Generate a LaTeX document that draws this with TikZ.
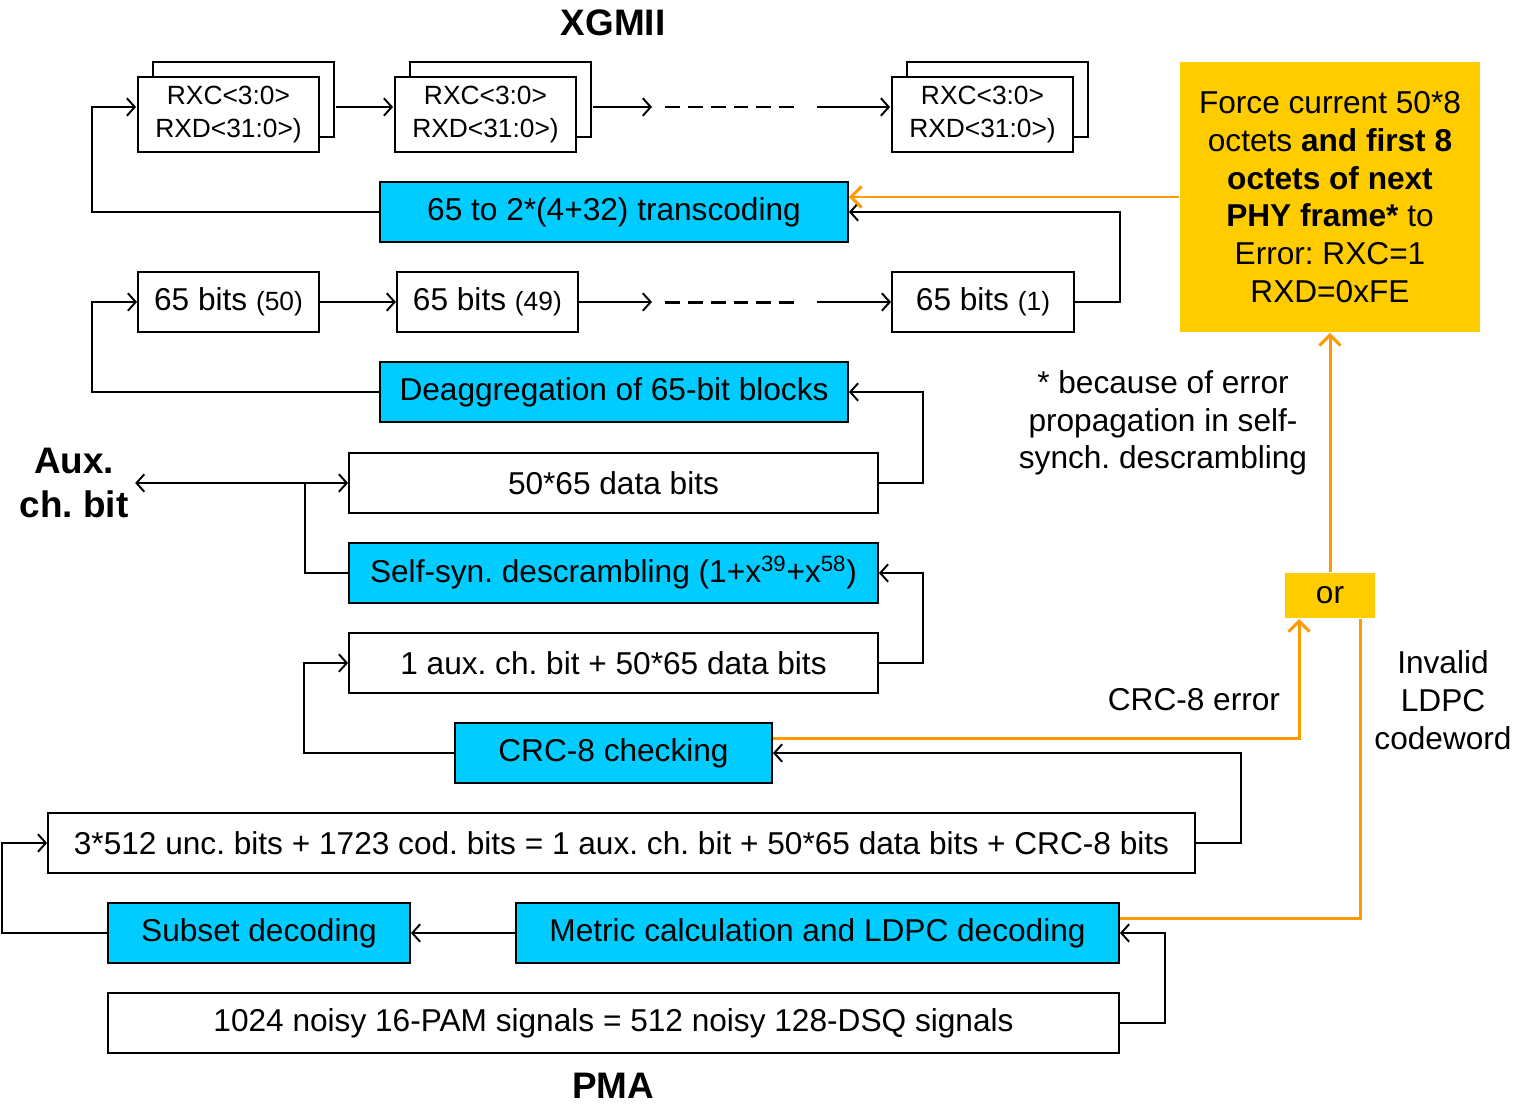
\documentclass[tikz,border=0pt]{standalone}
\usepackage{fontspec}
\setmainfont{Liberation Sans}
\usetikzlibrary{arrows.meta,fit,positioning}
\definecolor{cyanfill}{HTML}{00CCFF}
\definecolor{goldfill}{HTML}{FFCC00}
\definecolor{errorange}{HTML}{FF9900}
\newcommand{\blkcount}[1]{{\fontsize{15}{18}\selectfont(#1)}}
\frenchspacing

\begin{document}
\begin{tikzpicture}[x=0.02cm, y=-0.02cm, line width=1.1pt, >={Straight Barb[length=4.5pt,width=10pt]}]
	\tikzstyle{blk} = [draw, fill=white, inner sep=0pt, minimum height=1.2cm, font=\fontsize{18}{21.5}\selectfont]
	\tikzstyle{cyanblk} = [blk, fill=cyanfill]
	\tikzstyle{xgbox} = [draw, fill=white, inner sep=0pt, minimum width=3.62cm, minimum height=1.5cm, align=center, font=\fontsize{15}{18.5}\selectfont]
	\tikzstyle{blk65} = [blk, minimum width=3.62cm]
	\tikzstyle{goldbox} = [fill=goldfill, inner sep=0pt, align=center, font=\fontsize{18}{21.5}\selectfont]
	\tikzstyle{note} = [align=center, inner sep=0pt, font=\fontsize{18}{21.5}\selectfont]
	\tikzstyle{title} = [font=\fontsize{21}{25}\selectfont\bfseries, align=center]
	\tikzstyle{dashline} = [line width=1.7pt, dash pattern=on 8.5pt off 4.5pt]
	\tikzstyle{errarrow} = [draw=errorange, line width=1.7pt, -{Straight Barb[length=6pt,width=12pt]}]
	\tikzstyle{errpath} = [draw=errorange, line width=1.7pt]

	\useasboundingbox (0,0) rectangle (1518,1106);

	% XGMII side
	\path
	node[title] (xgmii) at (613,23) {XGMII}
	node[xgbox] (rx1b) at (243.5,99.5) {}
	node[xgbox] (rx1) at (228.5,114.5) {RXC<3:0>\\RXD<31:0>)}
	node[xgbox] (rx2b) at (500.5,99.5) {}
	node[xgbox] (rx2) at (485.5,114.5) {RXC<3:0>\\RXD<31:0>)}
	node[xgbox] (rx3b) at (997.5,99.5) {}
	node[xgbox] (rx3) at (982.5,114.5) {RXC<3:0>\\RXD<31:0>)}
	node[fit=(rx1)(rx1b), inner sep=0pt] (rxg1) {}
	node[fit=(rx2)(rx2b), inner sep=0pt] (rxg2) {}
	node[fit=(rx3)(rx3b), inner sep=0pt] (rxg3) {}

	node[cyanblk, minimum width=9.36cm] (trans) at (614,212) {65 to 2*(4+32) transcoding}
	node[blk65] (b65a) at (228.5,302) {65 bits \blkcount{50}}
	node[blk65, right=1.52cm of b65a] (b65b) {65 bits \blkcount{49}}
	node[blk65, minimum width=3.64cm] (b65c) at (983,302) {65 bits \blkcount{1}}
	node[cyanblk, minimum width=9.36cm] (deagg) at (614,392) {Deaggregation of 65-bit blocks}
	node[blk, minimum width=10.58cm] (data) at (613.5,483) {50*65 data bits}
	node[cyanblk, minimum width=10.58cm] (descr) at (613.5,573) {Self-syn. descrambling (1+x\textsuperscript{39}+x\textsuperscript{58})}
	node[blk, minimum width=10.58cm] (aux1) at (613.5,663) {1 aux. ch. bit + 50*65 data bits}
	node[cyanblk, minimum width=6.34cm] (crc) at (613.5,753) {CRC-8 checking}
	node[blk, minimum width=22.94cm] (unc) at (621.5,843) {3*512 unc. bits + 1723 cod. bits = 1 aux. ch. bit + 50*65 data bits + CRC-8 bits}
	node[cyanblk, minimum width=6.04cm] (subset) at (259,933) {Subset decoding}
	node[cyanblk, minimum width=12.06cm] (metric) at (817.5,933) {Metric calculation and LDPC decoding}
	node[blk, minimum width=20.22cm] (pam) at (613.5,1023) {1024 noisy 16-PAM signals = 512 noisy 128-DSQ signals}
	node[title] (pma) at (613,1086) {PMA}

	node[title] (auxlbl) at (74,483) {Aux.\\ch. bit}
	node[goldbox, minimum width=6cm, minimum height=5.4cm] (force) at (1330,197)
		{Force current 50*8\\octets \textbf{and first 8}\\\textbf{octets of next}\\\textbf{PHY frame*} to\\Error: RXC=1\\RXD=0xFE}
	node[goldbox, minimum width=1.8cm, minimum height=0.9cm] (orbox) at (1330,595.5) {or}
	node[note] (because) at (1163,423) {* because of error\\propagation in self-\\synch. descrambling}
	node[note, anchor=east] (crcerr) at (1281,700) {CRC-8 error}
	node[note] (invalid) at (1443,700) {Invalid\\LDPC\\codeword}
	;

	\coordinate (gap1a) at (652,107);
	\coordinate (dash1s) at (665,107);
	\coordinate (dash1e) at (795,107);
	\coordinate (gap1b) at (817,107);
	\coordinate (gap2a) at (652,302);
	\coordinate (dash2s) at (665,302);
	\coordinate (dash2e) at (795,302);
	\coordinate (gap2b) at (817,302);
	\coordinate (auxj) at (305,483);

	% black data path
	\draw[->] (rxg1.east) -- (rxg2.west);
	\draw[->] (rxg2.east) -- (gap1a);
	\draw[dashline] (dash1s) -- (dash1e);
	\draw[->] (gap1b) -- (rxg3.west);
	\draw[->] (trans.west) -- ++(-287,0) |- (rxg1.west);
	\draw[->] (b65c.east) -- ++(45,0) |- (trans.east);

	\draw[->] (b65a.east) -- (b65b.west);
	\draw[->] (b65b.east) -- (gap2a);
	\draw[dashline] (dash2s) -- (dash2e);
	\draw[->] (gap2b) -- (b65c.west);
	\draw[->] (deagg.west) -- ++(-287,0) |- (b65a.west);
	\draw[->] (data.east) -- ++(44,0) |- (deagg.east);

	\draw (descr.west) -| (auxj);
	\draw[->] (auxj) -- (data.west);
	\draw[->] (auxj) -- (auxlbl.east);
	\draw[->] (aux1.east) -- ++(44,0) |- (descr.east);
	\draw[->] (crc.west) -- ++(-150,0) |- (aux1.west);
	\draw[->] (unc.east) -- ++(45,0) |- (crc.east);
	\draw[->] (subset.west) -- ++(-105,0) |- (unc.west);
	\draw[->] (metric.west) -- (subset.east);
	\draw[->] (pam.east) -- ++(45,0) |- (metric.east);

	% error signalling
	\draw[errarrow] (force.west) -- (trans.east |- force.west);
	\draw[errarrow] ([yshift=0.3cm]crc.east) -| ([xshift=0.3cm]orbox.south west);
	\draw[errpath] ([yshift=0.3cm]metric.east) -| ([xshift=-0.3cm]orbox.south east);
	\draw[errarrow] (orbox.north) -- (force.south);

\end{tikzpicture}
\end{document}
